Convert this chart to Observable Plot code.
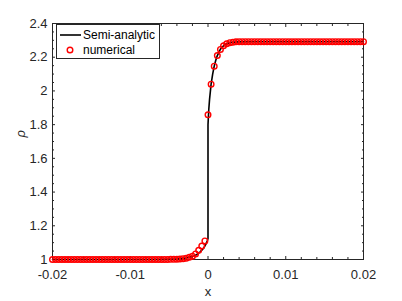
<!DOCTYPE html>
<html>
<head>
<meta charset="utf-8">
<script src="https://cdn.jsdelivr.net/npm/d3@7"></script>
<script src="https://cdn.jsdelivr.net/npm/@observablehq/plot@0.6"></script>
<style>
  html, body { margin: 0; padding: 0; background: #fff; }
  #wrap { position: relative; width: 402px; height: 301px; }
  #legend { position: absolute; left: 56px; top: 24px; width: 102px; height: 33px;
    border: 1px solid #262626; background: #fff; font: 12px "Liberation Sans", Arial, sans-serif; color: #000; }
  #legend svg { position: absolute; left: 0; top: 0; }
</style>
</head>
<body>
<div id="wrap"></div>
<script>
// Numerical solution (x grid, rho)
const numX = [
  -0.0200,-0.0196,-0.0192,-0.0188,-0.0184,-0.0180,-0.0176,-0.0172,-0.0168,-0.0164,
  -0.0160,-0.0156,-0.0152,-0.0148,-0.0144,-0.0140,-0.0136,-0.0132,-0.0128,-0.0124,
  -0.0120,-0.0116,-0.0112,-0.0108,-0.0104,-0.0100,-0.0096,-0.0092,-0.0088,-0.0084,
  -0.0080,-0.0076,-0.0072,-0.0068,-0.0064,-0.0060,-0.0056,-0.0052,-0.0048,-0.0044,
  -0.0040,-0.0036,-0.0032,-0.0028,-0.0024,-0.0020,-0.0016,-0.0012,-0.0008,-0.0004,
  0.0000,
  0.0004,0.0008,0.0012,0.0016,0.0020,0.0024,0.0028,0.0032,0.0036,0.0040,
  0.0044,0.0048,0.0052,0.0056,0.0060,0.0064,0.0068,0.0072,0.0076,0.0080,
  0.0084,0.0088,0.0092,0.0096,0.0100,0.0104,0.0108,0.0112,0.0116,0.0120,
  0.0124,0.0128,0.0132,0.0136,0.0140,0.0144,0.0148,0.0152,0.0156,0.0160,
  0.0164,0.0168,0.0172,0.0176,0.0180,0.0184,0.0188,0.0192,0.0196,0.0200
];
const numRho = [
  1.000,1.000,1.000,1.000,1.000,1.000,1.000,1.000,1.000,1.000,
  1.000,1.000,1.000,1.000,1.000,1.000,1.000,1.000,1.000,1.000,
  1.000,1.000,1.000,1.000,1.000,1.000,1.000,1.000,1.000,1.000,
  1.000,1.000,1.000,1.000,1.000,1.000,1.000,1.000,1.001,1.001,
  1.002,1.003,1.005,1.008,1.013,1.020,1.033,1.055,1.080,1.110,
  1.858,
  2.040,2.147,2.210,2.246,2.268,2.280,2.286,2.289,2.291,2.292,
  2.292,2.292,2.292,2.292,2.292,2.292,2.292,2.292,2.292,2.292,
  2.292,2.292,2.292,2.292,2.292,2.292,2.292,2.292,2.292,2.292,
  2.292,2.292,2.292,2.292,2.292,2.292,2.292,2.292,2.292,2.292,
  2.292,2.292,2.292,2.292,2.292,2.292,2.292,2.292,2.292,2.292
];
// Semi-analytic solution
const anaX = [-0.0200,-0.0080,-0.0060,-0.0050,-0.0040,-0.0030,-0.0020,-0.0015,-0.0010,-0.0006,-0.0003,-0.0001,0.0000,
              0.0000,0.0001,0.0002,0.0004,0.0006,0.0008,0.0010,0.0012,0.0016,0.0020,0.0025,0.0030,0.0040,0.0060,0.0200];
const anaRho = [1.000,1.000,1.001,1.002,1.004,1.008,1.017,1.028,1.045,1.065,1.088,1.110,1.125,
                1.800,1.890,1.950,2.040,2.100,2.147,2.182,2.210,2.248,2.268,2.282,2.288,2.291,2.292,2.292];
// Axis ticks
const xMajor = [-0.02, -0.01, 0, 0.01, 0.02];
const xMinor = [-0.018,-0.016,-0.014,-0.012,-0.008,-0.006,-0.004,-0.002,0.002,0.004,0.006,0.008,0.012,0.014,0.016,0.018];
const yMajor = [1, 1.2, 1.4, 1.6, 1.8, 2, 2.2, 2.4];
const yMinor = [1.05,1.1,1.15,1.25,1.3,1.35,1.45,1.5,1.55,1.65,1.7,1.75,1.85,1.9,1.95,2.05,2.1,2.15,2.25,2.3,2.35];
const xLabels = ["-0.02", "-0.01", "0", "0.01", "0.02"];
const yLabels = ["1", "1.2", "1.4", "1.6", "1.8", "2", "2.2", "2.4"];

const numData = numX.map((x, i) => ({x, rho: numRho[i]}));
const anaData = anaX.map((x, i) => ({x, rho: anaRho[i]}));

const ax = "#262626";
const chart = Plot.plot({
  width: 402, height: 301,
  marginLeft: 52, marginRight: 39, marginTop: 23, marginBottom: 42,
  style: {fontFamily: "'Liberation Sans', Arial, sans-serif", fontSize: "13px", color: ax, background: "#fff"},
  x: {domain: [-0.02, 0.02]},
  y: {domain: [1, 2.4]},
  marks: [
    Plot.frame({stroke: ax, strokeWidth: 1}),
    // inward ticks
    Plot.axisX(xMajor, {anchor: "bottom", tickSize: 3, insetBottom: 3, fill: "none", stroke: ax, label: null}),
    Plot.axisX(xMinor, {anchor: "bottom", tickSize: 2, insetBottom: 2, fill: "none", stroke: ax, label: null}),
    Plot.axisX(xMajor, {anchor: "top", tickSize: 3, insetTop: 3, fill: "none", stroke: ax, label: null}),
    Plot.axisX(xMinor, {anchor: "top", tickSize: 2, insetTop: 2, fill: "none", stroke: ax, label: null}),
    Plot.axisY(yMajor, {anchor: "left", tickSize: 3, insetLeft: 3, fill: "none", stroke: ax, label: null}),
    Plot.axisY(yMinor, {anchor: "left", tickSize: 2, insetLeft: 2, fill: "none", stroke: ax, label: null}),
    Plot.axisY(yMajor, {anchor: "right", tickSize: 3, insetRight: 3, fill: "none", stroke: ax, label: null}),
    Plot.axisY(yMinor, {anchor: "right", tickSize: 2, insetRight: 2, fill: "none", stroke: ax, label: null}),
    // tick labels
    Plot.axisX(xMajor, {anchor: "bottom", tickSize: 0, tickPadding: 10, fill: ax, label: null,
      tickFormat: (d, i) => xLabels[i]}),
    Plot.axisY(yMajor, {anchor: "left", tickSize: 0, tickPadding: 5, fill: ax, label: null,
      tickFormat: (d, i) => yLabels[i]}),
    // data
    Plot.line(anaData, {x: "x", y: "rho", stroke: "#000", strokeWidth: 1.6}),
    Plot.dot(numData, {x: "x", y: "rho", r: 2.8, stroke: "#ff0000", strokeWidth: 1.4, fill: "none"}),
    // axis titles
    Plot.text(["x"], {frameAnchor: "bottom", dy: 36, fill: ax, fontSize: 13}),
    Plot.text(["ρ"], {frameAnchor: "left", dx: -32, dy: -4, rotate: -90, fill: ax, fontSize: 13, fontStyle: "italic"})
  ]
});
const wrap = document.getElementById("wrap");
wrap.appendChild(chart);

// legend overlay
const legend = document.createElement("div");
legend.id = "legend";
legend.innerHTML = `<svg width="102" height="33">
  <line x1="3" y1="10" x2="24" y2="10" stroke="#000" stroke-width="1.6"/>
  <text x="26" y="14.2" font-size="12" fill="#000" font-family="Liberation Sans, Arial, sans-serif">Semi-analytic</text>
  <circle cx="13" cy="25" r="2.8" fill="none" stroke="#ff0000" stroke-width="1.4"/>
  <text x="26" y="29.2" font-size="12" fill="#000" font-family="Liberation Sans, Arial, sans-serif">numerical</text>
</svg>`;
wrap.appendChild(legend);
</script>
</body>
</html>
